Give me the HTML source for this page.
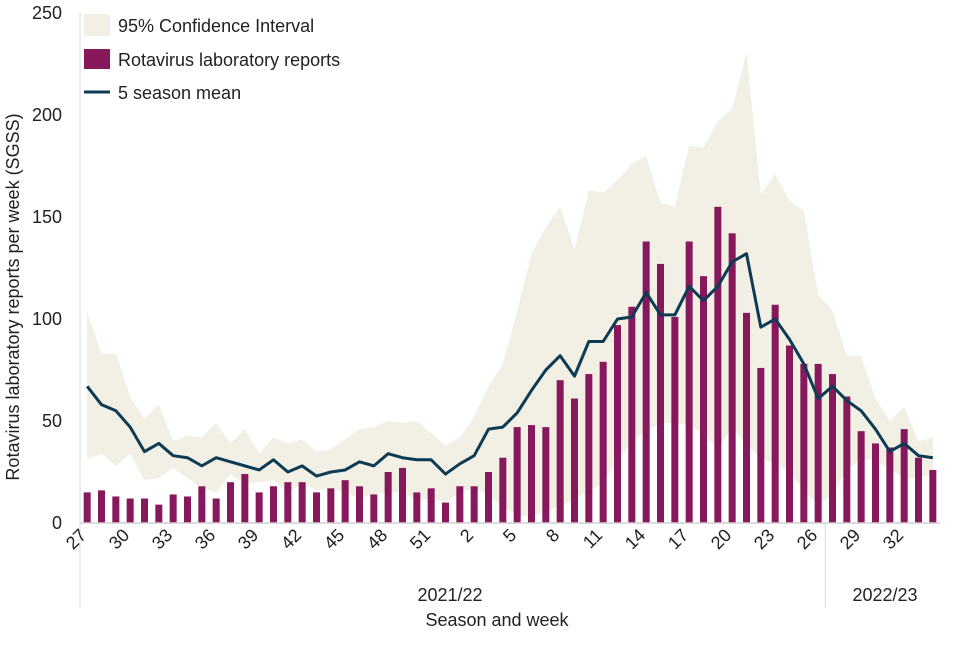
<!DOCTYPE html>
<html><head><meta charset="utf-8"><style>
body{margin:0;background:#fff;}
svg text{font-family:"Liberation Sans",Arial,sans-serif;fill:#222;}
</style></head><body>
<svg id="chart" width="960" height="640" viewBox="0 0 960 640" xmlns="http://www.w3.org/2000/svg"></svg>
<script>
const weekLabels=[27,28,29,30,31,32,33,34,35,36,37,38,39,40,41,42,43,44,45,46,47,48,49,50,51,52,1,2,3,4,5,6,7,8,9,10,11,12,13,14,15,16,17,18,19,20,21,22,23,24,25,26,27,28,29,30,31,32,33,34];
const reports=[15,16,13,12,12,9,14,13,18,12,20,24,15,18,20,20,15,17,21,18,14,25,27,15,17,10,18,18,25,32,47,48,47,70,61,73,79,97,106,138,127,101,138,121,155,142,103,76,107,87,78,78,73,62,45,39,37,46,32,26];
const mean=[67,58,55,47,35,39,33,32,28,32,30,28,26,31,25,28,23,25,26,30,28,34,32,31,31,24,29,33,46,47,54,65,75,82,72,89,89,100,101,113,102,102,116,109,116,128,132,96,100,90,78,61,67,60,55,46,35,39,33,32];
const ciUpper=[103,83,83,62,51,58,40,43,42,49,39,46,34,42,39,41,35,36,41,46,47,50,49,50,44,38,42,52,67,78,104,132,145,155,134,163,162,168,176,180,157,155,185,184,197,203,231,161,171,158,153,112,104,82,82,61,50,57,40,42];
const ciLower=[31,34,28,34,21,22,27,22,17,15,24,19,20,21,15,19,16,17,15,12,14,15,15,11,12,10,15,17,14,8,4,3,6,8,12,15,20,30,40,45,49,49,48,44,36,47,38,32,29,25,16,9,14,26,31,31,26,22,22,24];
const yTicks=[0,50,100,150,200,250];

const NS="http://www.w3.org/2000/svg";
const svg=document.getElementById('chart');
const X0=80,X1=940,Y0=523,Y1=13,YMAX=250;
const n=reports.length, band=(X1-X0)/n;
const xc=i=>X0+band*(i+0.5);
const y=v=>Y0-(v/YMAX)*(Y0-Y1);
function mk(tag,attrs){const e=document.createElementNS(NS,tag);for(const k in attrs)e.setAttribute(k,attrs[k]);svg.appendChild(e);return e;}

let d='M'+ciUpper.map((v,i)=>xc(i)+','+y(v)).join(' L');
for(let i=n-1;i>=0;i--)d+=' L'+xc(i)+','+y(ciLower[i]);
const ci=mk('path',{d:d+' Z',fill:'#f2efe4'});



reports.forEach((v,i)=>{
  const b=mk('rect',{x:xc(i)-3.5,y:y(v),width:7,height:Y0-y(v),fill:'#87185c'});
  
  
});

const ml=mk('polyline',{points:mean.map((v,i)=>xc(i)+','+y(v)).join(' '),fill:'none',stroke:'#0d3b54','stroke-width':3,'stroke-linejoin':'round'});



const ax=mk('line',{x1:X0,y1:Y0,x2:X1,y2:Y0,stroke:'#d0d0d0','stroke-width':1.5});


const ay=mk('line',{x1:X0,y1:Y1,x2:X0,y2:608,stroke:'#d9d9d9','stroke-width':1});


const sd=mk('line',{x1:X0+band*52,y1:Y0,x2:X0+band*52,y2:608,stroke:'#d9d9d9','stroke-width':1});



yTicks.forEach(t=>{
  const tx=mk('text',{x:62,y:y(t)+6,'text-anchor':'end','font-size':18});
  tx.textContent=t;
  
  
});
weekLabels.forEach((w,i)=>{
  if(i%3!==0)return;
  const cx=xc(i)-4, cy=532;
  const tx=mk('text',{x:cx,y:cy+6,'text-anchor':'end','font-size':18,transform:`rotate(-45 ${cx} ${cy})`});
  tx.textContent=w;
  
  
});
function label(txt,x,yy,name,extra){const t=mk('text',Object.assign({x:x,y:yy,'font-size':18,'text-anchor':'middle'},extra||{}));t.textContent=txt;

return t;}
label('2021/22',450,601,'season-label-2021-22');
label('2022/23',885,601,'season-label-2022-23');
label('Season and week',497,626,'x-axis-title');
label('Rotavirus laboratory reports per week (SGSS)',19,297,'y-axis-title',{transform:'rotate(-90 19 297)'});

const l1=mk('rect',{x:84,y:14,width:26,height:22,fill:'#f2efe4'});


label('95% Confidence Interval',118,32,'legend-ci-label',{'text-anchor':'start'});
const l2=mk('rect',{x:84,y:49,width:26,height:20,fill:'#87185c'});


label('Rotavirus laboratory reports',118,66,'legend-reports-label',{'text-anchor':'start'});
const l3=mk('line',{x1:84,y1:92,x2:110,y2:92,stroke:'#0d3b54','stroke-width':3});


label('5 season mean',118,99,'legend-mean-label',{'text-anchor':'start'});
</script>
</body></html>
